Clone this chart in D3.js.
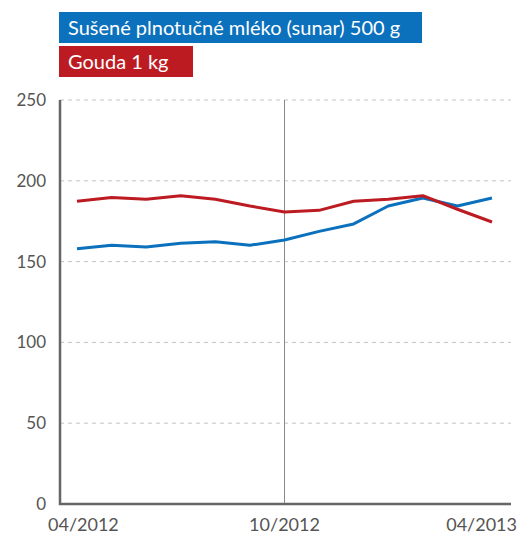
<!DOCTYPE html>
<html>
<head>
<meta charset="utf-8">
<script src="https://cdn.jsdelivr.net/npm/d3@7"></script>
<style>
body { margin: 0; background: #fff; }
svg { display: block; font-family: Lato, "DejaVu Sans", sans-serif; }
</style>
</head>
<body>
<svg id="chart" width="522" height="539"></svg>
<script>
var width = 522, height = 539

var months = ["04/2012","05/2012","06/2012","07/2012","08/2012","09/2012","10/2012",
              "11/2012","12/2012","01/2013","02/2013","03/2013","04/2013"]
var milk  = [158.0, 160.1, 159.0, 161.3, 162.3, 160.1, 163.4, 168.7, 173.3, 184.4, 189.4, 184.4, 189.4]
var gouda = [187.3, 189.6, 188.6, 190.8, 188.6, 184.4, 180.7, 181.7, 187.3, 188.6, 190.8, 182.4, 174.5]
var seriesNames = ["Sušené plnotučné mléko (sunar) 500 g", "Gouda 1 kg"]
var seriesColors = ["#0b71bd", "#bd1b22"]
var yTicks = [0, 50, 100, 150, 200, 250]
var xLabels = ["04/2012", "10/2012", "04/2013"]
var markerMonth = "10/2012"

var svg = d3.select('#chart')

var x = d3.scalePoint().domain(months).range([77, 492])
var y = d3.scaleLinear().domain([0, 250]).range([504, 100])

// grid
svg.append('g')
  .selectAll('line')
  .data(yTicks.filter(d => d > 0))
  .enter().append('line')
  .attr('x1', 60).attr('x2', 511)
  .attr('y1', d => y(d)).attr('y2', d => y(d))
  .attr('stroke', '#c4c4c4')
  .attr('stroke-width', 1)
  .attr('stroke-dasharray', '4,4')

// y labels
svg.append('g')
  .selectAll('text')
  .data(yTicks)
  .enter().append('text')
  .attr('x', 46)
  .attr('y', d => y(d) + 6)
  .attr('text-anchor', 'end')
  .attr('fill', '#555')
  .style('font-size', '17px')
  .text(d => d)

// vertical marker
svg.append('line')
  .attr('x1', x(markerMonth)).attr('x2', x(markerMonth))
  .attr('y1', y(250)).attr('y2', y(0))
  .attr('stroke', '#888')
  .attr('stroke-width', 1)

// axes
svg.append('path')
  .attr('d', 'M60,' + y(250) + 'V' + y(0) + 'H511')
  .attr('fill', 'none')
  .attr('stroke', '#666')
  .attr('stroke-width', 2.5)

// x labels
svg.append('g')
  .selectAll('text')
  .data(xLabels)
  .enter().append('text')
  .attr('x', (d, i) => i == 0 ? x(d) - 29 : (i == xLabels.length - 1 ? 517 : x(d)))
  .attr('y', 531)
  .attr('text-anchor', (d, i) => i == 0 ? 'start' : (i == xLabels.length - 1 ? 'end' : 'middle'))
  .attr('fill', '#555')
  .style('font-size', '18px')
  .text(d => d)

// lines
var line = d3.line()
  .x((d, i) => x(months[i]))
  .y(d => y(d))

svg.append('g')
  .selectAll('path')
  .data([milk, gouda])
  .enter().append('path')
  .attr('d', d => line(d))
  .attr('fill', 'none')
  .attr('stroke', (d, i) => seriesColors[i])
  .attr('stroke-width', 3)
  .attr('stroke-linejoin', 'round')

// legend
var legendW = [363, 134]
var leg = svg.append('g')
  .selectAll('g')
  .data(seriesNames)
  .enter().append('g')
  .attr('transform', (d, i) => 'translate(59,' + (12 + i * 34) + ')')

leg.append('rect')
  .attr('width', (d, i) => legendW[i])
  .attr('height', 31)
  .attr('fill', (d, i) => seriesColors[i])

leg.append('text')
  .attr('x', 9)
  .attr('y', 23)
  .attr('fill', '#fff')
  .style('font-size', '20px')
  .text(d => d)
</script>
</body>
</html>
